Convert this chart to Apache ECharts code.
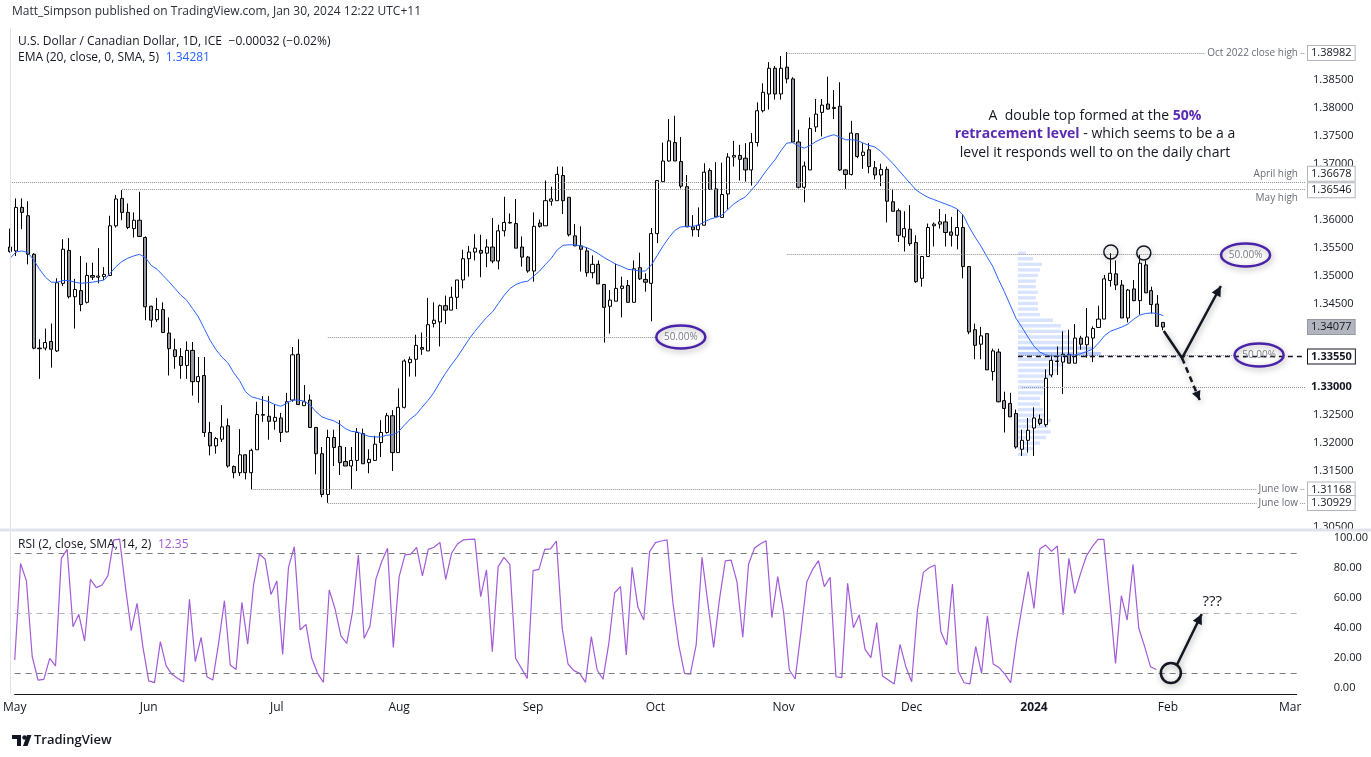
<!DOCTYPE html>
<html><head><meta charset="utf-8">
<script src="https://cdn.jsdelivr.net/npm/echarts@6/dist/echarts.min.js"></script>
<style>html,body{margin:0;padding:0;background:#fff;overflow:hidden}#c{width:1371px;height:757px}</style>
</head><body><div id="c"></div>
<script>
// ---------------- DATA ----------------
const opens = [
1.3551,1.3544,1.3622,1.3607,1.3538,1.3370,1.3370,1.3382,1.3365,1.3486,
1.3545,1.3462,1.3473,1.3452,1.3500,1.3497,1.3498,1.3500,1.3589,1.3638,
1.3613,1.3584,1.3599,1.3568,1.3445,1.3421,1.3439,1.3397,1.3367,1.3355,
1.3339,1.3366,1.3310,1.3321,1.3219,1.3195,1.3207,1.3231,1.3158,1.3147,
1.3179,1.3147,1.3188,1.3251,1.3248,1.3239,1.3245,1.3220,1.3277,1.3359,
1.3267,1.3277,1.3228,1.3181,1.3108,1.3210,1.3194,1.3167,1.3159,1.3169,
1.3217,1.3165,1.3169,1.3201,1.3219,1.3249,1.3183,1.3264,1.3344,1.3350,
1.3371,1.3365,1.3414,1.3417,1.3446,1.3438,1.3461,1.3492,1.3530,1.3542,
1.3545,1.3540,1.3551,1.3526,1.3580,1.3595,1.3593,1.3551,1.3533,1.3508,
1.3594,1.3589,1.3633,1.3634,1.3679,1.3640,1.3571,1.3553,1.3544,1.3505,
1.3520,1.3484,1.3445,1.3454,1.3477,1.3482,1.3452,1.3514,1.3493,1.3486,
1.3575,1.3668,1.3705,1.3738,1.3704,1.3659,1.3587,1.3582,1.3590,1.3688,
1.3655,1.3604,1.3646,1.3712,1.3715,1.3710,1.3689,1.3738,1.3795,1.3825,
1.3871,1.3825,1.3873,1.3852,1.3739,1.3658,1.3689,1.3766,1.3792,1.3807,
1.3799,1.3803,1.3689,1.3681,1.3754,1.3715,1.3725,1.3693,1.3680,1.3690,
1.3632,1.3616,1.3569,1.3583,1.3559,1.3495,1.3534,1.3589,1.3592,1.3596,
1.3578,1.3572,1.3586,1.3516,1.3403,1.3377,1.3396,1.3328,1.3363,1.3276,
1.3271,1.3253,1.3189,1.3205,1.3227,1.3243,1.3233,1.3322,1.3347,1.3345,
1.3359,1.3343,1.3388,1.3376,1.3388,1.3407,1.3422,1.3491,1.3503,1.3483,
1.3424,1.3476,1.3455,1.3519,1.3473,1.3449,1.3416];
const highs = [
1.3584,1.3638,1.3638,1.3633,1.3540,1.3386,1.3405,1.3414,1.3495,1.3565,
1.3567,1.3494,1.3535,1.3523,1.3523,1.3549,1.3515,1.3607,1.3644,1.3653,
1.3629,1.3613,1.3650,1.3570,1.3446,1.3460,1.3452,1.3425,1.3387,1.3370,
1.3382,1.3381,1.3354,1.3354,1.3238,1.3211,1.3268,1.3244,1.3160,1.3225,
1.3180,1.3190,1.3274,1.3284,1.3284,1.3270,1.3254,1.3290,1.3372,1.3386,
1.3304,1.3287,1.3228,1.3193,1.3224,1.3224,1.3241,1.3193,1.3193,1.3227,
1.3226,1.3189,1.3213,1.3241,1.3254,1.3259,1.3298,1.3350,1.3355,1.3394,
1.3398,1.3460,1.3452,1.3448,1.3464,1.3480,1.3492,1.3546,1.3553,1.3574,
1.3573,1.3565,1.3603,1.3591,1.3641,1.3611,1.3637,1.3570,1.3535,1.3613,
1.3600,1.3670,1.3659,1.3695,1.3695,1.3640,1.3592,1.3588,1.3551,1.3536,
1.3527,1.3484,1.3474,1.3521,1.3498,1.3492,1.3527,1.3541,1.3504,1.3585,
1.3670,1.3738,1.3780,1.3786,1.3748,1.3680,1.3608,1.3622,1.3701,1.3692,
1.3703,1.3702,1.3719,1.3741,1.3734,1.3737,1.3755,1.3810,1.3844,1.3882,
1.3875,1.3893,1.3900,1.3855,1.3761,1.3704,1.3783,1.3816,1.3816,1.3856,
1.3832,1.3846,1.3690,1.3777,1.3754,1.3737,1.3737,1.3705,1.3700,1.3695,
1.3655,1.3620,1.3615,1.3626,1.3572,1.3535,1.3593,1.3595,1.3619,1.3610,
1.3605,1.3619,1.3608,1.3517,1.3414,1.3408,1.3397,1.3369,1.3369,1.3292,
1.3290,1.3260,1.3224,1.3245,1.3264,1.3251,1.3332,1.3358,1.3373,1.3400,
1.3403,1.3413,1.3392,1.3442,1.3409,1.3446,1.3501,1.3540,1.3527,1.3492,
1.3476,1.3492,1.3537,1.3527,1.3480,1.3465,1.3416];
const lows = [
1.3541,1.3535,1.3583,1.3520,1.3368,1.3315,1.3366,1.3335,1.3363,1.3481,
1.3459,1.3405,1.3436,1.3450,1.3492,1.3486,1.3492,1.3499,1.3586,1.3599,
1.3583,1.3568,1.3569,1.3420,1.3407,1.3417,1.3398,1.3321,1.3333,1.3315,
1.3315,1.3285,1.3272,1.3211,1.3178,1.3181,1.3202,1.3156,1.3137,1.3141,
1.3135,1.3117,1.3188,1.3238,1.3206,1.3224,1.3202,1.3219,1.3274,1.3269,
1.3267,1.3228,1.3144,1.3103,1.3093,1.3159,1.3143,1.3159,1.3118,1.3150,
1.3163,1.3146,1.3169,1.3175,1.3217,1.3150,1.3183,1.3262,1.3319,1.3319,
1.3358,1.3365,1.3407,1.3373,1.3413,1.3438,1.3440,1.3477,1.3498,1.3527,
1.3497,1.3515,1.3522,1.3511,1.3570,1.3593,1.3549,1.3516,1.3505,1.3489,
1.3586,1.3589,1.3625,1.3634,1.3610,1.3570,1.3553,1.3507,1.3498,1.3495,
1.3485,1.3380,1.3396,1.3454,1.3425,1.3452,1.3452,1.3492,1.3471,1.3418,
1.3558,1.3668,1.3704,1.3705,1.3656,1.3587,1.3570,1.3569,1.3590,1.3654,
1.3605,1.3604,1.3618,1.3695,1.3670,1.3668,1.3661,1.3731,1.3792,1.3797,
1.3815,1.3815,1.3844,1.3739,1.3656,1.3631,1.3689,1.3757,1.3749,1.3797,
1.3780,1.3687,1.3655,1.3679,1.3710,1.3691,1.3683,1.3672,1.3660,1.3595,
1.3615,1.3560,1.3543,1.3553,1.3487,1.3480,1.3534,1.3552,1.3584,1.3552,
1.3552,1.3547,1.3495,1.3395,1.3350,1.3350,1.3331,1.3312,1.3273,1.3219,
1.3247,1.3190,1.3177,1.3183,1.3177,1.3232,1.3229,1.3318,1.3322,1.3288,
1.3343,1.3343,1.3367,1.3353,1.3345,1.3407,1.3422,1.3480,1.3474,1.3424,
1.3416,1.3454,1.3430,1.3469,1.3432,1.3409,1.3402];
const closes = [
1.3543,1.3622,1.3613,1.3538,1.3370,1.3369,1.3380,1.3368,1.3487,1.3547,
1.3462,1.3475,1.3448,1.3500,1.3497,1.3499,1.3502,1.3589,1.3637,1.3613,
1.3586,1.3599,1.3570,1.3444,1.3420,1.3439,1.3398,1.3369,1.3355,1.3339,
1.3366,1.3310,1.3319,1.3219,1.3195,1.3208,1.3229,1.3159,1.3147,1.3179,
1.3147,1.3187,1.3251,1.3250,1.3239,1.3246,1.3219,1.3274,1.3358,1.3269,
1.3274,1.3228,1.3181,1.3108,1.3210,1.3192,1.3165,1.3159,1.3169,1.3219,
1.3163,1.3171,1.3198,1.3219,1.3249,1.3183,1.3264,1.3347,1.3350,1.3375,
1.3368,1.3412,1.3420,1.3446,1.3438,1.3461,1.3492,1.3530,1.3542,1.3549,
1.3540,1.3551,1.3526,1.3580,1.3595,1.3594,1.3549,1.3533,1.3508,1.3588,
1.3588,1.3634,1.3637,1.3681,1.3634,1.3573,1.3553,1.3547,1.3505,1.3520,
1.3485,1.3443,1.3456,1.3477,1.3481,1.3452,1.3512,1.3494,1.3488,1.3575,
1.3670,1.3705,1.3741,1.3705,1.3660,1.3587,1.3582,1.3590,1.3685,1.3654,
1.3605,1.3645,1.3712,1.3715,1.3708,1.3689,1.3738,1.3795,1.3828,1.3871,
1.3825,1.3871,1.3852,1.3739,1.3658,1.3696,1.3763,1.3789,1.3805,1.3798,
1.3801,1.3689,1.3681,1.3755,1.3713,1.3721,1.3695,1.3680,1.3690,1.3633,
1.3615,1.3572,1.3584,1.3557,1.3489,1.3534,1.3586,1.3592,1.3596,1.3577,
1.3572,1.3586,1.3516,1.3399,1.3375,1.3392,1.3331,1.3365,1.3274,1.3262,
1.3247,1.3193,1.3205,1.3223,1.3245,1.3235,1.3316,1.3348,1.3346,1.3359,
1.3343,1.3388,1.3377,1.3390,1.3405,1.3422,1.3494,1.3504,1.3483,1.3424,
1.3474,1.3455,1.3522,1.3469,1.3448,1.3409,1.34077];
const ema20 = [
1.3531,1.3542,1.3544,1.3541,1.3528,1.3511,1.3497,1.3488,1.3488,1.3491,
1.3491,1.3488,1.3486,1.3487,1.3488,1.3490,1.3492,1.3504,1.3516,1.3525,
1.3531,1.3535,1.3538,1.3532,1.3518,1.3511,1.3500,1.3489,1.3477,1.3465,
1.3456,1.3441,1.3426,1.3405,1.3384,1.3367,1.3354,1.3344,1.3326,1.3312,
1.3292,1.3283,1.3280,1.3277,1.3274,1.3269,1.3266,1.3271,1.3277,1.3277,
1.3275,1.3268,1.3256,1.3247,1.3243,1.3240,1.3234,1.3226,1.3221,1.3220,
1.3216,1.3212,1.3211,1.3211,1.3214,1.3215,1.3220,1.3232,1.3243,1.3251,
1.3264,1.3276,1.3290,1.3308,1.3325,1.3340,1.3354,1.3370,1.3386,1.3400,
1.3413,1.3425,1.3435,1.3450,1.3465,1.3477,1.3484,1.3488,1.3490,1.3499,
1.3508,1.3520,1.3531,1.3546,1.3554,1.3555,1.3555,1.3553,1.3550,1.3545,
1.3539,1.3532,1.3526,1.3520,1.3516,1.3511,1.3510,1.3508,1.3508,1.3519,
1.3536,1.3553,1.3568,1.3581,1.3587,1.3588,1.3588,1.3590,1.3596,1.3601,
1.3604,1.3608,1.3618,1.3628,1.3635,1.3641,1.3653,1.3665,1.3680,1.3694,
1.3707,1.3723,1.3737,1.3738,1.3732,1.3728,1.3733,1.3740,1.3745,1.3749,
1.3752,1.3748,1.3743,1.3743,1.3742,1.3737,1.3733,1.3730,1.3722,1.3712,
1.3701,1.3689,1.3677,1.3665,1.3653,1.3646,1.3640,1.3636,1.3632,1.3628,
1.3624,1.3619,1.3608,1.3587,1.3569,1.3553,1.3534,1.3517,1.3493,1.3471,
1.3447,1.3423,1.3407,1.3390,1.3374,1.3363,1.3358,1.3356,1.3356,1.3356,
1.3358,1.3358,1.3360,1.3364,1.3368,1.3379,1.3392,1.3400,1.3404,1.3408,
1.3413,1.3422,1.3429,1.3432,1.3433,1.3432,1.34281];
const rsi2 = [
18.7,83,71.6,21,5.3,5.8,19.8,14.7,86.4,92.4,
40.9,49.1,31.3,72.4,66.9,68.7,74.9,98.7,99.3,67.6,
38.2,56.4,27.6,4.7,3.6,30.9,14.7,9.1,6.4,4.0,
59.1,17.6,33.8,7.5,5.3,29.8,58.2,15.3,12.4,57.1,
29.3,68.7,89.3,85.8,62.4,71.3,22.4,80.4,94.2,38.7,
42.4,19.8,9.8,3.8,65.3,52.7,34.7,29.8,50.9,88.7,
33.1,41.3,72.4,84.2,93.1,27.1,74.2,88.7,89.3,93.8,
74.7,92.4,93.8,97.1,72.4,89.8,96,98.7,99.1,99.3,
60.9,78.7,24.2,80.9,87.1,82.4,19.8,13.1,6.4,78.2,
79.1,92.4,92.7,98,39.8,16,11.6,9.8,3.8,34.2,
12,5.8,29.8,63.5,67.6,22,80.4,53.8,45.3,90.9,
96.9,98,98.7,56.9,28.7,9.8,9.3,28.7,87.1,56.9,
27.1,59.1,84.7,85.3,70.9,33.8,82.7,93.1,96,98.2,
46.9,74.2,50.9,12,6,37.6,70.9,79.1,84.9,67.6,
73.8,7.5,6.9,69.8,40.2,48.7,25.8,20.2,43.6,8,
5.3,2.7,29.1,14.2,4.2,52,77.1,80.2,82,37.6,
28.7,69.3,11.3,3.5,2.7,27.6,9.8,48.2,16,13.6,
9.3,3.5,32,55.3,77.6,53.1,92.7,95.3,91.1,94.7,
48.7,86.4,63.1,76.4,88,94.2,99.1,99.1,58.7,16.4,
61.6,45.3,82.4,39.8,27.6,14.2,12.35];
// visible-range volume profile (price row, relative volume)
const vpPrices = [1.3540,1.3530,1.3520,1.3510,1.3500,1.3490,1.3480,1.3470,1.3460,1.3450,
1.3440,1.3430,1.3420,1.3410,1.3400,1.3390,1.3380,1.3370,1.3360,1.3350,1.3340,1.3330,1.3320,
1.3310,1.3300,1.3290,1.3280,1.3270,1.3260,1.3250,1.3240,1.3230,1.3220,1.3210,1.3200,1.3190,1.3180];
const vpVolumes = [8,15,24,22,20,18,18,20,18,20,20,22,35,43,48,52,60,75,83,60,45,40,35,30,28,25,22,22,25,30,33,30,33,28,22,15,10];
const monthNames = ['Jan','Feb','Mar','Apr','May','Jun','Jul','Aug','Sep','Oct','Nov','Dec'];
const priceTicks = [1.305,1.315,1.32,1.325,1.345,1.35,1.355,1.36,1.37,1.375,1.38,1.385];
const rsiTicks = [0,20,40,60,80,100];
const keyLevels = [ // price, first bar, note
  {price:1.38982, from:132, note:'Oct 2022 close high'},
  {price:1.36678, from:0,   note:'April high'},
  {price:1.36546, from:19,  note:'May high'},
  {price:1.31168, from:41,  note:'June low'},
  {price:1.30929, from:54,  note:'June low'}
];
const fibLevels = [ // 50% retracement lines
  {price:1.33899, from:54,  to:110},
  {price:1.35385, from:132, to:206},
  {price:1.33572, from:171.5, to:208}
];
const lastPrice = 1.34077;
const pivotLevel = 1.33550;
const roundLevel = 1.33000;

// ---------------- SETUP ----------------
const FONT = '"Open Sans","Noto Sans",sans-serif';
const TXT = '#131722';
const NB = 221;            // bar slots shown on the time scale
const X_MIN = -0.02, X_MAX = 220.1;
const dates = [];
for (let d = new Date(Date.UTC(2023,4,1)); dates.length < NB; d.setUTCDate(d.getUTCDate()+1)) {
  const wd = d.getUTCDay(); if (wd !== 0 && wd !== 6) dates.push(new Date(d.getTime()));
}
const monthStarts = [];
dates.forEach((d,i)=>{ if (i===0 || d.getUTCMonth()!==dates[i-1].getUTCMonth()) monthStarts.push(i); });

const candleData = closes.map((c,i)=>[i, opens[i], c, lows[i], highs[i]]);
const emaData = ema20.map((v,i)=>[i,v]);
const rsiData = rsi2.map((v,i)=>[i,v]);

const markLines = [];
keyLevels.forEach(l=>markLines.push([{coord:[l.from,l.price]},{coord:[X_MAX,l.price]}]));
fibLevels.forEach(l=>markLines.push([{coord:[l.from,l.price]},{coord:[l.to,l.price]}]));
markLines.push([{coord:[172,roundLevel]},{coord:[X_MAX,roundLevel]}]);
markLines.push([{coord:[171.3,pivotLevel],lineStyle:{color:'#131722',type:[5,4],width:1.3}},{coord:[X_MAX,pivotLevel]}]);

const chart = echarts.init(document.getElementById('c'), null, {renderer:'canvas'});
const option = {
  animation:false,
  backgroundColor:'#ffffff',
  textStyle:{fontFamily:FONT},
  grid:[
    {left:10, right:66, top:28, height:500},
    {left:10, right:66, top:530, height:164}
  ],
  xAxis:[
    {type:'value', gridIndex:0, min:X_MIN, max:X_MAX, show:false},
    {type:'value', gridIndex:1, min:X_MIN, max:X_MAX,
     axisLine:{show:true, onZero:false, lineStyle:{color:'#131722', width:1}},
     axisTick:{show:false}, splitLine:{show:false},
     axisLabel:{customValues:monthStarts, color:TXT, fontSize:12, fontFamily:FONT, margin:8,
       formatter:v=>{ const d=dates[Math.round(v)]; if(!d) return ''; const m=d.getUTCMonth();
         return m===0 ? '{b|'+d.getUTCFullYear()+'}' : monthNames[m]; },
       rich:{b:{fontWeight:'bold', fontSize:12, color:TXT, fontFamily:FONT}}}}
  ],
  yAxis:[
    {type:'value', gridIndex:0, position:'right', min:1.30480, max:1.39431,
     axisLine:{show:false}, axisTick:{show:false}, splitLine:{show:false},
     axisLabel:{customValues:priceTicks, formatter:v=>v.toFixed(5), color:TXT, fontSize:11, fontFamily:FONT, margin:8}},
    {type:'value', gridIndex:1, position:'right', min:-4, max:105.33,
     axisLine:{show:false}, axisTick:{show:false}, splitLine:{show:false},
     axisLabel:{customValues:rsiTicks, formatter:v=>v.toFixed(2), color:TXT, fontSize:11, fontFamily:FONT, margin:37}}
  ],
  series:[
    {type:'custom', name:'vp', xAxisIndex:0, yAxisIndex:0, silent:true, z:1,
     data: vpPrices.map((p,k)=>[p, vpVolumes[k]]),
     encode:{x:-1, y:-1},
     renderItem:(params, api)=>{
       const p = api.value(0), v = api.value(1);
       const a = api.coord([171.3, p + 0.00030]);
       const b = api.coord([171.3, p - 0.00030]);
       return {type:'rect', shape:{x:a[0], y:a[1], width:v*1.0, height:b[1]-a[1]},
         style:{fill: v>=75 ? 'rgba(41,98,255,0.32)' : 'rgba(41,98,255,0.18)'}};
     }},
    {type:'candlestick', name:'USDCAD', xAxisIndex:0, yAxisIndex:0, z:3,
     data:candleData, encode:{x:0, y:[1,2,3,4]}, barWidth:3.6, clip:true,
     itemStyle:{color:'#ffffff', color0:'#9598a1', borderColor:'#000000', borderColor0:'#000000', borderWidth:1}},
    {type:'line', name:'EMA', xAxisIndex:0, yAxisIndex:0, z:4, data:emaData, symbol:'none', clip:true,
     lineStyle:{color:'#2962ff', width:1},
     markLine:{silent:true, symbol:['none','none'], animation:false, label:{show:false},
       lineStyle:{color:'#8a8d96', type:'dotted', width:1}, data:markLines}},
    {type:'line', name:'RSI', xAxisIndex:1, yAxisIndex:1, data:rsiData, symbol:'none', clip:true,
     lineStyle:{color:'#a35bd8', width:1.2},
     markLine:{silent:true, symbol:['none','none'], animation:false, label:{show:false},
       data:[
         {yAxis:90, lineStyle:{color:'#787b86', type:[6,5], width:1}},
         {yAxis:50, lineStyle:{color:'#b2b5be', type:[6,5], width:1}},
         {yAxis:10, lineStyle:{color:'#787b86', type:[6,5], width:1}}
       ]}}
  ]
};
chart.setOption(option);

// ---------------- ANNOTATIONS (anchored in data coordinates) ----------------
const P = (i,p)=>chart.convertToPixel({xAxisIndex:0, yAxisIndex:0}, [i,p]);
const R = (i,v)=>chart.convertToPixel({xAxisIndex:1, yAxisIndex:1}, [i,v]);
const G = [];
const SH = {shadowBlur:6, shadowColor:'rgba(0,0,0,0.35)', shadowOffsetX:1, shadowOffsetY:2};
const rightX = P(X_MAX, 1.35)[0];

function text(x,y,t,st){ G.push({type:'text', x, y, z:100, silent:true,
  style:Object.assign({text:t, fill:TXT, font:'12px '+FONT, textVerticalAlign:'middle'}, st||{})}); }

// header & legends
text(12, 12, 'Matt_Simpson published on TradingView.com, Jan 30, 2024 12:22 UTC+11', {font:'12px '+FONT, fill:'#2a2e39'});
G.push({type:'text', x:18, y:42, z:100, style:{text:'{a|U.S. Dollar / Canadian Dollar, 1D, ICE}  {a|\u22120.00032 (\u22120.02%)}', textVerticalAlign:'middle',
  rich:{a:{fill:TXT, font:'12px '+FONT}}}});
G.push({type:'text', x:18, y:58, z:100, style:{text:'{a|EMA (20, close, 0, SMA, 5)}  {b|1.34281}', textVerticalAlign:'middle',
  rich:{a:{fill:TXT, font:'12px '+FONT}, b:{fill:'#2962ff', font:'12px '+FONT}}}});
G.push({type:'text', x:18, y:545, z:100, style:{text:'{a|RSI (2, close, SMA, 14, 2)}  {b|12.35}', textVerticalAlign:'middle',
  rich:{a:{fill:TXT, font:'12px '+FONT}, b:{fill:'#a35bd8', font:'12px '+FONT}}}});

// left border and pane separator
G.push({type:'rect', shape:{x:0, y:528.5, width:1371, height:3}, style:{fill:'#e0e3eb'}, z:50, silent:true});
G.push({type:'line', shape:{x1:10.5, y1:28, x2:10.5, y2:694}, style:{stroke:'#e0e3eb', lineWidth:1}, z:50, silent:true});

// level notes
keyLevels.forEach((l,k)=>{
  const y = P(X_MAX, l.price)[1];
  let dy = 0, bg = '#ffffff';
  if (l.note==='April high') { dy = -8; bg = null; }
  if (l.note==='May high') { dy = 9; bg = null; }
  text(rightX-5, y+dy, l.note, {font:'10px '+FONT, fill:'#6a6d78', textAlign:'right', backgroundColor:bg, padding:[0,2]});
});

// price-scale boxes
function box(price, st, dy){
  const y = P(X_MAX, price)[1] + (dy||0);
  text(rightX+3, y, price.toFixed(5), Object.assign({font:'11px '+FONT, fill:TXT, backgroundColor:'#ffffff',
    borderColor:'#b2b5be', borderWidth:1, padding:[2,3,1,3]}, st||{}));
}
box(1.38982);
box(1.36678, null, -8);
box(1.36546, null, 1);
box(lastPrice, {backgroundColor:'#b2b5be', borderColor:'#9598a1'});
box(pivotLevel, {font:'bold 11px '+FONT, borderColor:'#131722'});
box(roundLevel, {font:'bold 11px '+FONT, borderColor:'#ffffff'});
box(1.31168);
box(1.30929);

// commentary text
const tAnchor = P(184.4, 1.37856);
G.push({type:'text', x:tAnchor[0], y:tAnchor[1], z:100, style:{text:'{n|A  double top formed at the }{p|50%}', textAlign:'center', textVerticalAlign:'middle',
  rich:{n:{fill:TXT, font:'14px '+FONT}, p:{fill:'#5b2bb5', font:'bold 14px '+FONT}}}});
G.push({type:'text', x:tAnchor[0], y:tAnchor[1]+18.5, z:100, style:{text:'{p|retracement level}{n| - which seems to be a a}', textAlign:'center', textVerticalAlign:'middle',
  rich:{n:{fill:TXT, font:'14px '+FONT}, p:{fill:'#5b2bb5', font:'bold 14px '+FONT}}}});
G.push({type:'text', x:tAnchor[0], y:tAnchor[1]+37, z:100, style:{text:'level it responds well to on the daily chart', textAlign:'center', textVerticalAlign:'middle',
  fill:TXT, font:'14px '+FONT}});

// 50% ellipses
[[114,1.33899],[210,1.35367],[212.3,1.33577]].forEach(a=>{
  const c = P(a[0], a[1]);
  G.push({type:'ellipse', z:90, shape:{cx:c[0], cy:c[1], rx:24.5, ry:11.5},
    style:Object.assign({fill:'rgba(255,255,255,0)', stroke:'#4a23a8', lineWidth:2.5}, SH)});
  text(c[0], c[1], '50.00%', {font:'10px '+FONT, fill:'#787b86', textAlign:'center'});
});

// double-top circles
[[187.1,1.35421],[192.7,1.35403]].forEach(a=>{
  const c = P(a[0], a[1]);
  G.push({type:'circle', z:90, shape:{cx:c[0], cy:c[1], r:7}, style:Object.assign({fill:'rgba(255,255,255,0)', stroke:'#131722', lineWidth:1.5}, SH)});
});

// arrows
function head(tip, from, size){
  const dx=tip[0]-from[0], dy=tip[1]-from[1], L=Math.hypot(dx,dy), ux=dx/L, uy=dy/L;
  const bx=tip[0]-ux*size, by=tip[1]-uy*size, nx=-uy, ny=ux;
  return [[tip[0],tip[1]],[bx+nx*size*0.5,by+ny*size*0.5],[bx-nx*size*0.5,by-ny*size*0.5]];
}
const a0 = P(196.1, 1.34007), aV = P(199.2, 1.33523), aUp = P(205.8, 1.34812), aDn = P(202.2, 1.32771);
G.push({type:'polyline', z:95, shape:{points:[a0, aV, aUp]}, style:Object.assign({stroke:'#131722', lineWidth:2.5, fill:null}, SH)});
G.push({type:'polygon', z:95, shape:{points:head(aUp, aV, 10)}, style:{fill:'#131722'}});
G.push({type:'line', z:95, shape:{x1:aV[0], y1:aV[1], x2:aDn[0], y2:aDn[1]}, style:Object.assign({stroke:'#131722', lineWidth:2.5, lineDash:[6,4]}, SH)});
G.push({type:'polygon', z:95, shape:{points:head(aDn, aV, 9)}, style:{fill:'#131722'}});

// RSI annotation
const rc = R(198.5, 10);
G.push({type:'circle', z:95, shape:{cx:rc[0], cy:rc[1], r:10}, style:Object.assign({fill:'rgba(255,255,255,0)', stroke:'#131722', lineWidth:2.5}, SH)});
const rTip = R(203.8, 49.3);
const rFrom = [rc[0]+6, rc[1]-8];
G.push({type:'line', z:95, shape:{x1:rFrom[0], y1:rFrom[1], x2:rTip[0], y2:rTip[1]}, style:Object.assign({stroke:'#131722', lineWidth:2.5}, SH)});
G.push({type:'polygon', z:95, shape:{points:head(rTip, rFrom, 10)}, style:{fill:'#131722'}});
const qm = R(205.6, 57.5);
text(qm[0], qm[1], '???', {font:'15px '+FONT, fill:TXT, textAlign:'center'});

// TradingView logo
G.push({type:'polygon', z:100, shape:{points:[[12,735],[21,735],[21,746],[17,746],[17,739],[12,739]]}, style:{fill:'#131722'}});
G.push({type:'circle', z:100, shape:{cx:24.5, cy:737.5, r:2.2}, style:{fill:'#131722'}});
G.push({type:'polygon', z:100, shape:{points:[[27,735],[31.5,735],[27.5,746],[23,746]]}, style:{fill:'#131722'}});
text(34, 740.5, 'TradingView', {font:'600 13px '+FONT, fill:'#131722'});

chart.setOption({graphic:{elements:G}});
</script>
</body></html>
